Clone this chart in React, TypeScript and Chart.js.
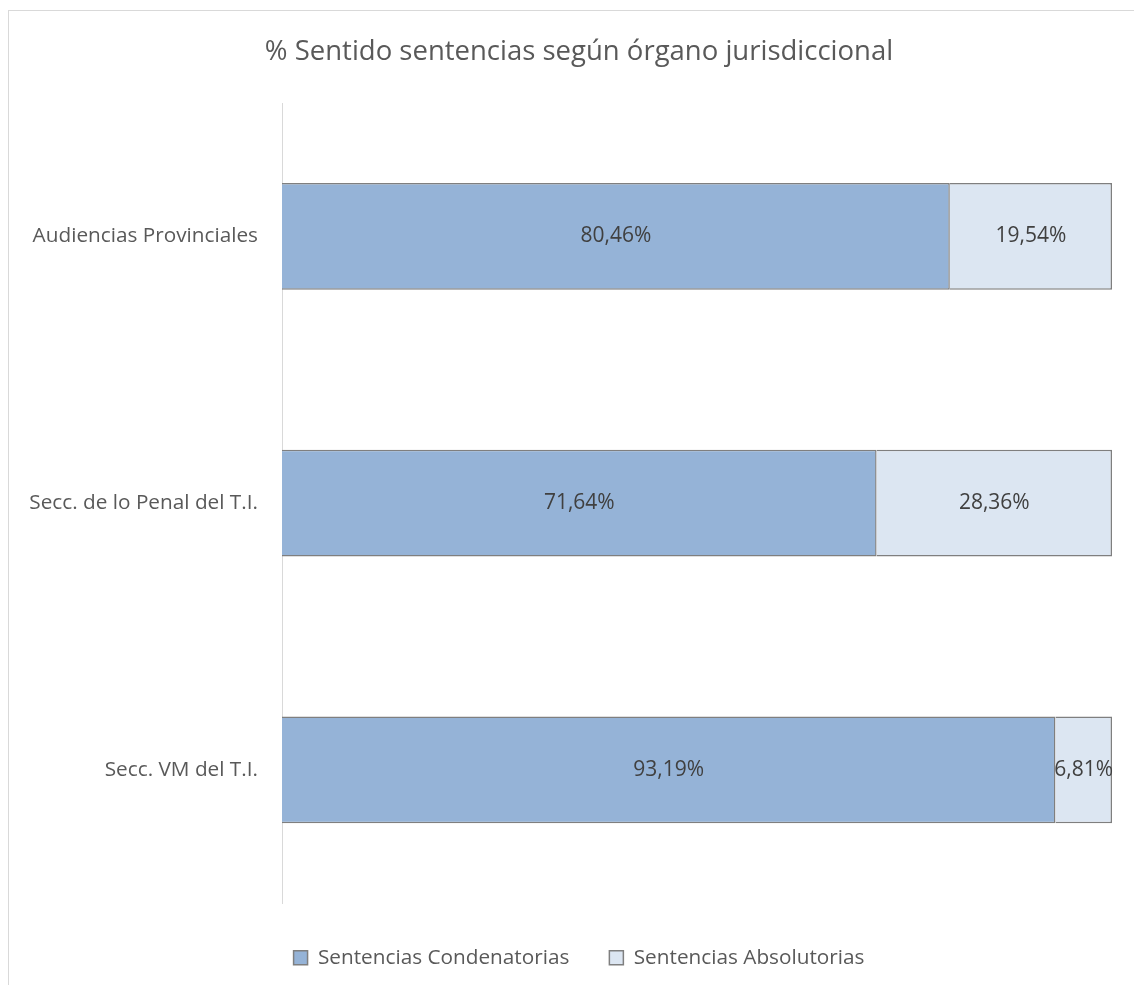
import React, { useEffect, useRef } from "react";
import { Chart, registerables } from "chart.js";

Chart.register(...registerables);

const categories = ["Audiencias Provinciales", "Secc. de lo Penal del T.I.", "Secc. VM del T.I."];
const condenatorias = [80.46, 71.64, 93.19];
const absolutorias = [19.54, 28.36, 6.81];
const seriesNames = ["Sentencias Condenatorias", "Sentencias Absolutorias"];
const titleText = "% Sentido sentencias según órgano jurisdiccional";

const FONT = "'Open Sans', sans-serif";

const framePlugin = {
  id: "frame",
  beforeDraw(chart: any) {
    const ctx = chart.ctx;
    ctx.save();
    ctx.fillStyle = "#ffffff";
    ctx.fillRect(0, 0, chart.width, chart.height);
    ctx.strokeStyle = "#d9d9d9";
    ctx.lineWidth = 1;
    ctx.strokeRect(8.5, 10.5, chart.width + 20, chart.height + 20);
    ctx.restore();
  },
};

const valueLabels = {
  id: "valueLabels",
  afterDatasetsDraw(chart: any) {
    const ctx = chart.ctx;
    ctx.save();
    ctx.font = `21px ${FONT}`;
    ctx.fillStyle = "#404040";
    ctx.textAlign = "center";
    ctx.textBaseline = "middle";
    chart.data.datasets.forEach((ds: any, di: number) => {
      const meta = chart.getDatasetMeta(di);
      meta.data.forEach((bar: any, i: number) => {
        const v = ds.data[i] as number;
        const txt = v.toFixed(2).replace(".", ",") + "%";
        const cx = (bar.x + bar.base) / 2;
        ctx.fillText(txt, cx, bar.y);
      });
    });
    ctx.restore();
  },
};

export default function App() {
  const ref = useRef<HTMLCanvasElement | null>(null);
  useEffect(() => {
    if (!ref.current) return;
    const chart = new Chart(ref.current, {
      type: "bar",
      data: {
        labels: categories,
        datasets: [
          {
            label: seriesNames[0],
            data: condenatorias,
            backgroundColor: "#95b3d7",
            borderColor: "#7f7f7f",
            borderWidth: 1.5,
            categoryPercentage: 1,
            barPercentage: 0.4,
          },
          {
            label: seriesNames[1],
            data: absolutorias,
            backgroundColor: "#dce6f2",
            borderColor: "#7f7f7f",
            borderWidth: 1.5,
            categoryPercentage: 1,
            barPercentage: 0.4,
          },
        ],
      },
      options: {
        indexAxis: "y",
        animation: false,
        responsive: false,
        layout: { padding: { left: 24, right: 0, top: 0, bottom: 7 } },
        scales: {
          x: {
            stacked: true,
            min: 0,
            max: 100,
            display: true,
            grid: { display: false, drawTicks: false },
            border: { display: false },
            ticks: { display: false },
            afterFit(scale: any) {
              scale.height = 4;
            },
          },
          y: {
            stacked: true,
            grid: { display: false, drawTicks: false },
            border: { display: true, color: "#d9d9d9", width: 1 },
            ticks: {
              padding: 24,
              color: "#595959",
              font: { family: FONT, size: 20.75 },
            },
            afterFit(scale: any) {
              scale.width = 258;
            },
          },
          yRight: {
            type: "linear",
            position: "right",
            display: true,
            grid: { display: false, drawTicks: false },
            border: { display: false },
            ticks: { display: false },
            afterFit(scale: any) {
              scale.width = 22;
            },
          },
        },
        plugins: {
          title: {
            display: true,
            text: titleText,
            color: "#595959",
            font: { family: FONT, size: 27.5, weight: "normal" },
            padding: { top: 36, bottom: 34 },
          },
          legend: {
            position: "bottom",
            labels: {
              boxWidth: 14,
              boxHeight: 14,
              padding: 40,
              color: "#595959",
              font: { family: FONT, size: 20.75 },
            },
          },
          tooltip: { enabled: false },
        },
      },
      plugins: [framePlugin, valueLabels],
    });
    return () => chart.destroy();
  }, []);
  return (
    <div style={{ position: "absolute", left: 0, top: 0, width: 1134, height: 985, overflow: "hidden" }}>
      <canvas ref={ref} width={1134} height={985} style={{ display: "block" }} />
    </div>
  );
}
